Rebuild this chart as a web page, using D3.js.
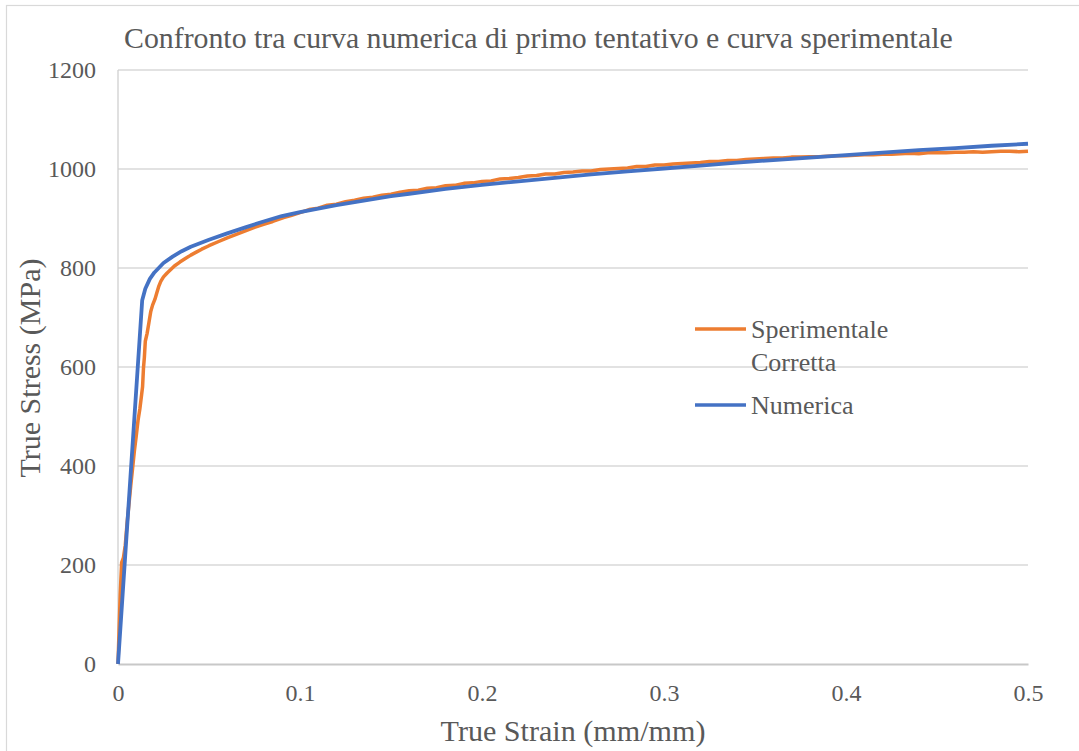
<!DOCTYPE html>
<html>
<head>
<meta charset="utf-8">
<script src="https://cdn.jsdelivr.net/npm/d3@7"></script>
<style>
  html, body { margin: 0; padding: 0; background: #ffffff; }
  svg text { font-family: "Liberation Serif", "Tinos", "Times New Roman", Times, "DejaVu Serif", "Noto Serif", serif !important; fill: #595959; }
</style>
</head>
<body>
<svg id="chart" width="1079" height="751"></svg>
<script>
// Experimental corrected curve (true strain, true stress in MPa)
const expStrain = [0, 0.0012, 0.002, 0.003, 0.004, 0.005, 0.006, 0.007, 0.008, 0.009, 0.010, 0.011, 0.012,
  0.013, 0.0135, 0.014, 0.0145, 0.015, 0.016, 0.017, 0.018, 0.019, 0.0203, 0.0215, 0.0225, 0.0235,
  0.025, 0.027, 0.029, 0.031, 0.034, 0.037, 0.040, 0.043, 0.046, 0.050, 0.055, 0.060, 0.065, 0.070,
  0.075, 0.080, 0.085, 0.091, 0.095,
  0.100, 0.105, 0.110, 0.115, 0.120, 0.125, 0.130, 0.135, 0.140, 0.145,
  0.150, 0.155, 0.160, 0.165, 0.170, 0.175, 0.180, 0.185, 0.190, 0.195,
  0.200, 0.205, 0.210, 0.215, 0.220, 0.225, 0.230, 0.235, 0.240, 0.245,
  0.250, 0.255, 0.260, 0.265, 0.270, 0.275, 0.280, 0.285, 0.290, 0.295,
  0.300, 0.305, 0.310, 0.315, 0.320, 0.325, 0.330, 0.335, 0.340, 0.345,
  0.350, 0.355, 0.360, 0.365, 0.370, 0.375, 0.380, 0.385, 0.390, 0.395,
  0.400, 0.405, 0.410, 0.415, 0.420, 0.425, 0.430, 0.435, 0.440, 0.445,
  0.450, 0.455, 0.460, 0.465, 0.470, 0.475, 0.480, 0.485, 0.490, 0.495, 0.500];
const expStress = [0, 140, 205, 215, 240, 285, 322, 360, 395, 430, 460, 492, 515,
  545, 560, 598, 620, 652, 668, 690, 712, 725, 737, 752, 764, 773,
  782, 790, 797, 804, 812, 819, 826, 832, 838, 845, 853, 861, 868, 875,
  882, 888, 894, 902, 906,
  912, 918, 921, 927, 929, 934, 937, 941, 943, 947,
  949, 953, 956, 957, 961, 962, 966, 967, 971, 972,
  975, 976, 980, 981, 983, 986, 987, 990, 990, 993,
  994, 996, 996, 999, 1000, 1001, 1002, 1005, 1005, 1008,
  1008, 1010, 1011, 1012, 1013, 1015, 1015, 1017, 1017, 1019,
  1020, 1021, 1022, 1022, 1024, 1024, 1025, 1025, 1026, 1027,
  1027, 1028, 1029, 1029, 1030, 1030, 1031, 1032, 1031, 1033,
  1033, 1033, 1034, 1034, 1035, 1034, 1035, 1036, 1036, 1035, 1036];

// Numerical first-attempt curve
const numStrain = [0, 0.0133, 0.015, 0.0175, 0.02, 0.025, 0.03, 0.035, 0.04, 0.045, 0.05, 0.06, 0.07,
  0.08, 0.09, 0.10, 0.11, 0.12, 0.13, 0.14, 0.15, 0.16, 0.17, 0.18, 0.19, 0.20, 0.22, 0.24,
  0.26, 0.28, 0.30, 0.32, 0.34, 0.36, 0.38, 0.40, 0.42, 0.44, 0.46, 0.48, 0.50];
const numStress = [0, 735, 758, 778, 791, 810, 823, 834, 843, 850, 857, 870, 882,
  894, 905, 913, 920, 927, 933, 939, 945, 950, 955, 960, 964, 968, 975, 982,
  989, 995, 1001, 1007, 1013, 1018, 1023, 1028, 1033, 1038, 1042, 1047, 1051];

const xTicks = [0, 0.1, 0.2, 0.3, 0.4, 0.5];
const yTicks = [0, 200, 400, 600, 800, 1000, 1200];

const seriesNames = ["Sperimentale Corretta", "Numerica"];
const seriesColors = ["#ED7D31", "#4472C4"];

const titleText = "Confronto tra curva numerica di primo tentativo e curva sperimentale";
const xTitleText = "True Strain (mm/mm)";
const yTitleText = "True Stress (MPa)";

const FONT = "'Liberation Serif', 'Tinos', 'Times New Roman', Times, 'DejaVu Serif', serif";

const svg = d3.select("#chart");
const W = 1079, H = 751;
const margin = { left: 118, right: 51, top: 70, bottom: 87 };

const x = d3.scaleLinear().domain([0, 0.5]).range([margin.left, W - margin.right]);
const y = d3.scaleLinear().domain([0, 1200]).range([H - margin.bottom, margin.top]);

// chart area border
svg.append("rect")
  .attr("x", 6.5).attr("y", 5.5)
  .attr("width", W + 20).attr("height", H + 20)
  .attr("fill", "none").attr("stroke", "#d9d9d9").attr("stroke-width", 1.2);

// horizontal gridlines
svg.append("g")
  .selectAll("line")
  .data(yTicks.filter(d => d > 0))
  .join("line")
  .attr("x1", x(0)).attr("x2", x(0.5))
  .attr("y1", d => y(d)).attr("y2", d => y(d))
  .attr("stroke", "#d9d9d9").attr("stroke-width", 1.3);

// left axis line
svg.append("line")
  .attr("x1", x(0)).attr("x2", x(0))
  .attr("y1", y(0)).attr("y2", y(1200))
  .attr("stroke", "#d0d0d0").attr("stroke-width", 1.3);

// y axis
const yAxis = d3.axisLeft(y).tickValues(yTicks).tickSize(0).tickPadding(22).tickFormat(d3.format("d"));
const gy = svg.append("g").attr("transform", `translate(${x(0)},0)`).call(yAxis);
gy.attr("font-family", FONT);
gy.select(".domain").remove();
gy.selectAll("text").attr("font-size", 24).attr("fill", "#595959");

// x axis
const xAxis = d3.axisBottom(x).tickValues(xTicks).tickSize(0).tickPadding(20)
  .tickFormat(d => d === 0 ? "0" : d3.format(".1f")(d));
const gx = svg.append("g").attr("transform", `translate(0,${y(0)})`).call(xAxis);
gx.attr("font-family", FONT);
gx.select(".domain").attr("stroke", "#c8c8c8").attr("stroke-width", 2);
gx.selectAll("text").attr("font-size", 24).attr("fill", "#595959");

// curves
const lineGen = d3.line().x(d => x(d[0])).y(d => y(d[1]));
const expData = expStrain.map((s, i) => [s, expStress[i]]);
const numData = numStrain.map((s, i) => [s, numStress[i]]);

svg.append("path").datum(expData)
  .attr("d", lineGen).attr("fill", "none")
  .attr("stroke", seriesColors[0]).attr("stroke-width", 3.5)
  .attr("stroke-linejoin", "round");
svg.append("path").datum(numData)
  .attr("d", lineGen).attr("fill", "none")
  .attr("stroke", seriesColors[1]).attr("stroke-width", 3.8)
  .attr("stroke-linejoin", "round");

// titles, each fitted to its span
function fitText(sel, target) {
  const w = sel.node().getComputedTextLength();
  const fs = parseFloat(sel.attr("font-size"));
  sel.attr("font-size", fs * target / w);
}
const title = svg.append("text")
  .attr("x", 124).attr("y", 48).attr("font-size", 28).attr("font-family", FONT)
  .text(titleText);
fitText(title, 829);

const xTitle = svg.append("text")
  .attr("x", 573).attr("y", 741).attr("text-anchor", "middle").attr("font-size", 28).attr("font-family", FONT)
  .text(xTitleText);
fitText(xTitle, 265);

const yTitle = svg.append("text")
  .attr("transform", `translate(40,${368}) rotate(-90)`)
  .attr("text-anchor", "middle").attr("font-size", 28).attr("font-family", FONT)
  .text(yTitleText);
fitText(yTitle, 219);

// legend
const legend = svg.append("g").attr("font-family", FONT);
const legendRows = [
  { name: ["Sperimentale", "Corretta"], color: seriesColors[0], ly: 329 },
  { name: ["Numerica"], color: seriesColors[1], ly: 405 }
];
legendRows.forEach(r => {
  legend.append("line")
    .attr("x1", 695).attr("x2", 746).attr("y1", r.ly).attr("y2", r.ly)
    .attr("stroke", r.color).attr("stroke-width", 3.5);
  r.name.forEach((t, i) => {
    legend.append("text")
      .attr("x", 751).attr("y", r.ly + 9 + i * 33)
      .attr("font-size", 26)
      .text(t);
  });
});
</script>
</body>
</html>
